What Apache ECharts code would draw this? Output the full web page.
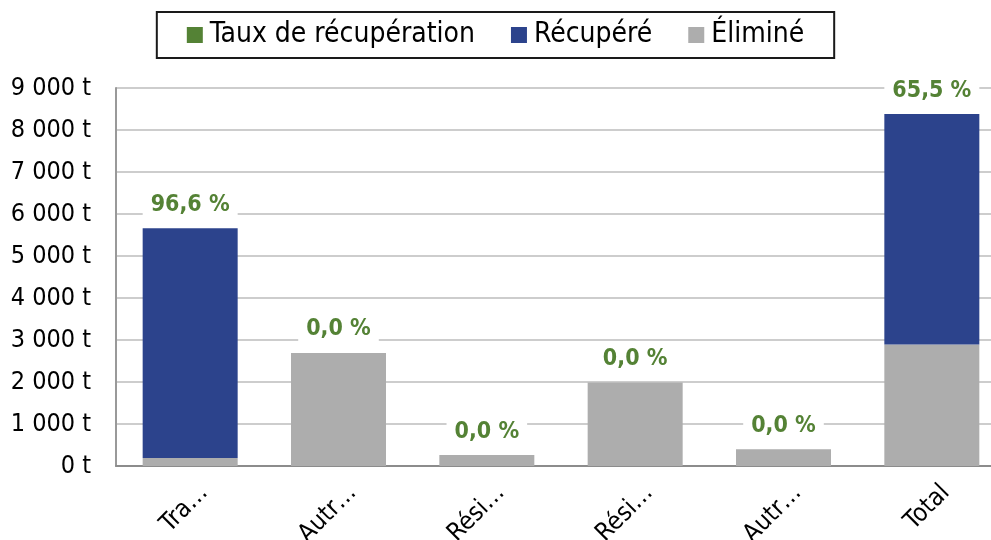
<!DOCTYPE html>
<html>
<head>
<meta charset="utf-8">
<script src="https://cdn.jsdelivr.net/npm/echarts@6/dist/echarts.min.js"></script>
<style>
html,body{margin:0;padding:0;background:#fff;}
#chart{width:991px;height:540px;}
</style>
</head>
<body>
<div id="chart"></div>
<script>
const categories = ['Tra…', 'Autr…', 'Rési…', 'Rési…', 'Autr…', 'Total'];
const elimine = [190, 2690, 260, 1990, 400, 2890];
const recupere = [5470, 0, 0, 0, 0, 5490];
const tauxRecuperation = [96.6, 0.0, 0.0, 0.0, 0.0, 65.5];
const yTicks = { min: 0, max: 9000, interval: 1000 };

const FONT = '"DejaVu Sans Condensed", "DejaVu Sans", sans-serif';
const totals = elimine.map((v, i) => v + recupere[i]);

function fmtThousands(v) {
  return String(v).replace(/\B(?=(\d{3})+(?!\d))/g, ' ') + ' t';
}
function fmtPct(v) {
  return v.toFixed(1).replace('.', ',') + ' %';
}

const chart = echarts.init(document.getElementById('chart'), null, { renderer: 'canvas' });
chart.setOption({
  animation: false,
  backgroundColor: '#ffffff',
  textStyle: { fontFamily: FONT },
  legend: {
    top: 12,
    left: 'center',
    icon: 'rect',
    itemWidth: 16,
    itemHeight: 16,
    itemGap: 36,
    padding: [9, 30, 9, 30],
    borderColor: '#1a1a1a',
    borderWidth: 2,
    textStyle: { fontFamily: FONT, fontSize: 28, color: '#000', padding: [0, 0, 0, 2] },
    data: ['Taux de récupération', 'Récupéré', 'Éliminé']
  },
  grid: [
    { left: 116, top: 88, width: 890, height: 378, outerBoundsMode: 'none', containLabel: false },
    { left: 130, top: 88, width: 890, height: 378, outerBoundsMode: 'none', containLabel: false }
  ],
  xAxis: [
    {
      type: 'category',
      gridIndex: 0,
      data: categories,
      axisLine: { lineStyle: { color: '#8c8c8c', width: 2 } },
      axisTick: { show: false },
      axisLabel: { show: false }
    },
    {
      type: 'category',
      gridIndex: 1,
      data: categories,
      axisLine: { show: false },
      axisTick: { show: false },
      splitLine: { show: false },
      axisLabel: { rotate: 45, fontFamily: FONT, fontSize: 25, color: '#000', margin: 23, interval: 0 }
    }
  ],
  yAxis: [
    {
      type: 'value',
      gridIndex: 0,
      min: yTicks.min,
      max: yTicks.max,
      interval: yTicks.interval,
      axisLine: { show: true, lineStyle: { color: '#999999', width: 2 } },
      axisTick: { show: false },
      splitLine: { lineStyle: { color: '#bdbdbd', width: 1.5 } },
      axisLabel: { fontFamily: FONT, fontSize: 25, color: '#000', margin: 25, formatter: fmtThousands }
    },
    {
      type: 'value',
      gridIndex: 1,
      min: yTicks.min,
      max: yTicks.max,
      interval: yTicks.interval,
      show: false
    }
  ],
  series: [
    {
      name: 'Éliminé',
      type: 'bar',
      stack: 'total',
      barWidth: 95,
      data: elimine,
      itemStyle: { color: '#adadad' }
    },
    {
      name: 'Récupéré',
      type: 'bar',
      stack: 'total',
      barWidth: 95,
      data: recupere,
      itemStyle: { color: '#2c438c' }
    },
    {
      name: 'Taux de récupération',
      type: 'scatter',
      data: totals,
      symbolSize: 0.01,
      itemStyle: { color: '#548235', opacity: 1 },
      z: 5,
      label: {
        show: true,
        position: 'top',
        distance: 10,
        fontFamily: FONT,
        fontSize: 23,
        fontWeight: 'bold',
        color: '#548235',
        opacity: 1,
        backgroundColor: '#ffffff',
        padding: [3, 8, 2, 8],
        formatter: p => fmtPct(tauxRecuperation[p.dataIndex])
      }
    }
  ]
});
</script>
</body>
</html>
